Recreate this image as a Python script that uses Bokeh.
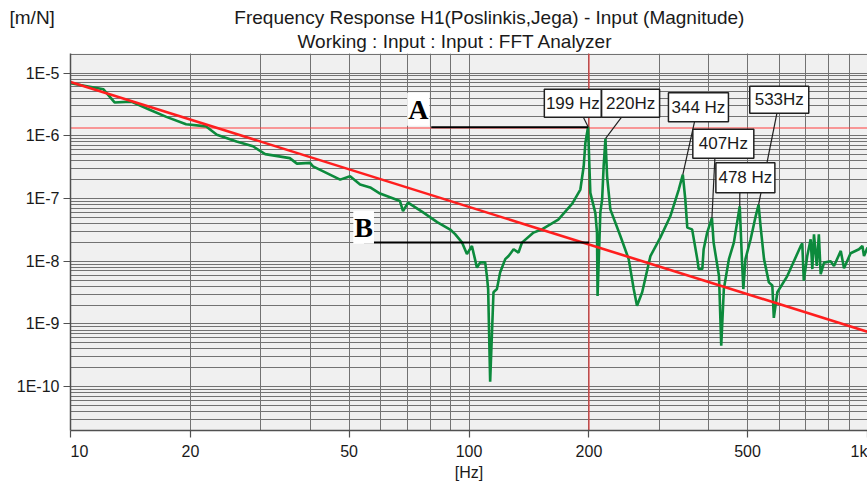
from bokeh.plotting import figure
from bokeh.models import FixedTicker, CustomJSTickFormatter, Span, Label, Title
from bokeh.core.properties import value
from bokeh.embed import file_html
from bokeh.resources import INLINE

# ---- measured FRF H1 magnitude (m/N) ----
freq_hz = [10, 12.1, 12.9, 14.2, 15.8, 17.4, 19.5, 21.9, 23.3, 26.1, 28.7, 30.8, 35.5, 37.0,
           39.9, 40.6, 47.5, 50.3, 53.3, 56.5, 59.8, 67.1, 68.3, 70.3, 76.7, 83.2, 89.7, 92.3,
           96.0, 98.8, 101.7, 104.7, 106.7, 109.8, 110.9, 111.7, 113.0, 115.2, 117.5, 119.7,
           123.3, 125.7, 129.4, 133.1, 135.8, 145.2, 152, 167.5, 181.6, 190.3, 194.0, 195.9,
           199, 200.5, 201.6, 207.5, 209.5, 210.2, 213.6, 215.8, 217.7, 220, 222.1, 226.3,
           239.8, 251.6, 259, 264, 272, 285.3, 302, 320, 336, 344, 349, 353, 363, 374, 377,
           385, 388, 396, 407, 411, 424, 429.5, 436, 449, 462, 478, 484, 488, 494, 509, 524,
           533, 539, 550, 565.6, 577, 582, 594, 629, 680, 686, 692, 706, 720, 727, 734, 746,
           755, 763, 778, 808, 824, 857, 873, 907, 952, 971, 980, 1000]
h1_mag = [6.9e-6, 5.5e-6, 3.4e-6, 3.5e-6, 2.6e-6, 2.0e-6, 1.53e-6, 1.41e-6, 1.04e-6, 8.1e-7,
          6.8e-7, 5.1e-7, 4.4e-7, 3.6e-7, 3.7e-7, 3.26e-7, 2.0e-7, 2.26e-7, 1.67e-7, 1.5e-7,
          1.2e-7, 9.1e-8, 6.3e-8, 8.6e-8, 6.0e-8, 4.2e-8, 3.2e-8, 2.7e-8, 2.0e-8, 1.3e-8,
          1.75e-8, 7.9e-9, 9.6e-9, 9.6e-9, 5.8e-9, 3.6e-9, 1.2e-10, 3.2e-9, 3.6e-9, 6.6e-9,
          1.08e-8, 1.21e-8, 1.55e-8, 1.37e-8, 1.98e-8, 2.86e-8, 3.2e-8, 4.6e-8, 8.3e-8, 1.39e-7,
          3.26e-7, 7.7e-7, 1.39e-6, 3.3e-7, 1.23e-7, 5.9e-8, 2.86e-8, 2.8e-9, 6.0e-8, 9.6e-8,
          3.26e-7, 9.0e-7, 2.26e-7, 6.7e-8, 2.52e-8, 1.08e-8, 3.6e-9, 1.95e-9, 3.2e-9, 1.21e-8,
          2.38e-8, 5.2e-8, 1.39e-7, 2.4e-7, 9.6e-8, 3.43e-8, 3.22e-8, 1.08e-8, 7.5e-9, 7.5e-9,
          1.55e-8, 2.86e-8, 4.9e-8, 1.98e-8, 5.8e-9, 4.5e-10, 3.6e-9, 1.08e-8, 1.98e-8, 7.5e-8,
          1.08e-8, 3.6e-9, 1.08e-8, 2.24e-8, 5.2e-8, 8.0e-8, 3.63e-8, 1.08e-8, 4.6e-9, 4.1e-9,
          1.25e-9, 3.2e-9, 5.8e-9, 1.75e-8, 1.93e-8, 4.9e-9, 1.21e-8, 2.24e-8, 7.5e-9, 2.68e-8,
          8.4e-9, 2.68e-8, 6.2e-9, 9.5e-9, 1.0e-8, 8.4e-9, 1.46e-8, 7.7e-9, 1.34e-8, 1.55e-8,
          1.75e-8, 1.21e-8, 1.65e-8]

# ---- reference (mass) line ----
mass_line_freq = [10, 1000]
mass_line_mag = [7.2e-6, 7.5e-10]

# ---- red cursors ----
cursor_freq = 200
cursor_mag = 1.33e-6

# ---- A / B reference levels ----
ref_names = ["A", "B"]
ref_start_freq = [80.4, 54.5]
ref_end_freq = [199, 200]
ref_level = [1.37e-6, 1.98e-8]
ref_label_freq = [74.6, 54.4]
ref_label_mag = [2.64e-6, 3.47e-8]

# ---- peak annotations ----
peak_text = ["199 Hz", "220Hz", "344 Hz", "407Hz", "478 Hz", "533Hz"]
peak_freq = [199, 220, 344, 407, 478, 533]
peak_mag = [1.39e-6, 9.0e-7, 2.4e-7, 4.9e-8, 7.5e-8, 8.0e-8]
box_freq = [182.2, 254.4, 376.5, 434.7, 493.8, 600.6]
box_mag = [3.30e-6, 3.30e-6, 2.84e-6, 7.44e-7, 2.14e-7, 3.77e-6]
box_w = [57, 58, 60, 61, 59, 59]
box_h = [28, 28, 29, 29, 30, 27]
lead_freq = [193.5, 241.5, 368, 414, 478.2, 592.7]
lead_mag = [2.0e-6, 1.98e-6, 1.67e-6, 4.39e-7, 1.24e-7, 2.31e-6]

# ---- axes ----
x_ticks = [10, 20, 50, 100, 200, 500, 1000]
y_ticks = [1e-10, 1e-9, 1e-8, 1e-7, 1e-6, 1e-5]
x_minor = [k * d for d in (10, 100) for k in range(2, 10)]
y_minor = [k * 10.0 ** e for e in range(-11, -5) for k in range(2, 10)] + [2e-5]

# header / unit texts
title_line1 = "Frequency Response H1(Poslinkis,Jega) - Input (Magnitude)"
title_line2 = "Working : Input : Input : FFT Analyzer"
y_unit = "[m/N]"
x_unit = "[Hz]"

FONT = "Liberation Sans"

p = figure(width=867, height=483, x_axis_type="log", y_axis_type="log",
           x_range=(10, 1000), y_range=(2.0e-11, 2.05e-5),
           output_backend="svg", toolbar_location=None, title=None,
           min_border_left=70, min_border_right=0, min_border_top=53, min_border_bottom=51)

p.background_fill_color = "#f0f0f0"
p.border_fill_color = "white"
p.outline_line_color = None

xt = FixedTicker(ticks=x_ticks, minor_ticks=x_minor)
yt = FixedTicker(ticks=y_ticks, minor_ticks=y_minor)
p.xaxis.ticker = xt
p.yaxis.ticker = yt
p.xgrid.ticker = xt
p.ygrid.ticker = yt

for g in (p.xgrid, p.ygrid):
    g.grid_line_color = "#727272"
    g.grid_line_width = 1
    g.minor_grid_line_color = "#727272"
    g.minor_grid_line_width = 1

for ax in (p.xaxis, p.yaxis):
    ax.axis_line_color = "#505050"
    ax.axis_line_width = 1.5
    ax.major_tick_line_color = "#505050"
    ax.major_tick_line_width = 1.2
    ax.major_tick_out = 7
    ax.major_tick_in = 0
    ax.minor_tick_line_color = None
    ax.major_label_text_font = FONT
    ax.major_label_text_font_size = "16px"
    ax.major_label_text_color = "#1a1a1a"

p.yaxis.major_label_standoff = 4
p.xaxis.major_label_standoff = 5
p.yaxis.formatter = CustomJSTickFormatter(code='return "1E" + Math.round(Math.log10(tick));')
p.xaxis.formatter = CustomJSTickFormatter(code="""
if (tick >= 999) return "1k";
if (Math.abs(tick - 10) < 1e-6) return "\\u00a0\\u00a0\\u00a0\\u00a010";
return String(Math.round(tick));
""")
p.xaxis.axis_label = x_unit
p.xaxis.axis_label_text_font = FONT
p.xaxis.axis_label_text_font_size = "16px"
p.xaxis.axis_label_text_font_style = "normal"
p.xaxis.axis_label_text_color = "#1a1a1a"
p.xaxis.axis_label_standoff = 1

# header titles (first added sits closest to the frame)
p.add_layout(Title(text=title_line2, align="left", offset=227, standoff=3,
                   text_font=FONT, text_font_size="19px", text_font_style="normal",
                   text_color="#1a1a1a"), "above")
# top row: unit at far left, then the first title line (gap filled with no-break spaces)
p.add_layout(Title(text=y_unit + "\u00a0" * 34 + title_line1, align="left", offset=-61,
                   standoff=0, text_font=FONT, text_font_size="19px",
                   text_font_style="normal", text_color="#1a1a1a"), "above")

# cursors
p.add_layout(Span(location=cursor_freq, dimension="height", line_color="#e03a3a",
                  line_width=1.2, level="underlay"))
p.add_layout(Span(location=cursor_mag, dimension="width", line_color="#ff3c3c",
                  line_width=1.2, level="underlay"))

# curves
p.line(freq_hz, h1_mag, line_color="#0c8a3c", line_width=2.6)
p.line(mass_line_freq, mass_line_mag, line_color="#ff1e1e", line_width=2.6)

# A / B lines
p.segment(x0=ref_start_freq, y0=ref_level, x1=ref_end_freq, y1=ref_level,
          line_color="black", line_width=2)
for name, fx, my in zip(ref_names, ref_label_freq, ref_label_mag):
    p.add_layout(Label(x=fx, y=my, text=name, text_align="center", text_baseline="middle",
                       text_font="Liberation Serif", text_font_style="bold",
                       text_font_size="28px", text_color="black",
                       background_fill_color="white", padding=1))

# leaders and boxes
p.segment(x0=lead_freq, y0=lead_mag, x1=peak_freq, y1=peak_mag,
          line_color="#202020", line_width=1.2)
p.rect(x=box_freq, y=box_mag, width=box_w, height=box_h,
       width_units="screen", height_units="screen",
       fill_color="white", line_color="#202020", line_width=1.5)
p.text(x=box_freq, y=box_mag, text=peak_text, text_align="center", text_baseline="middle",
       text_font=value(FONT), text_font_size="17px", text_color="#1a1a1a")

open("out.html", "w").write(file_html(p, INLINE))
